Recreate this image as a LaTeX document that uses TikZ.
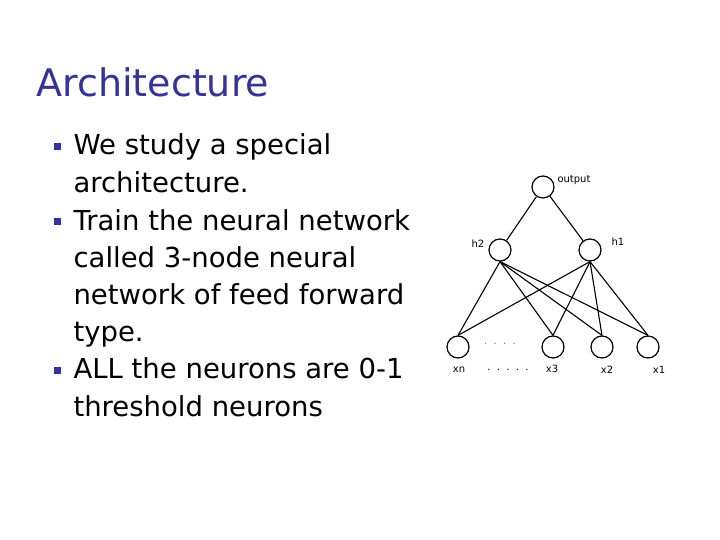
\documentclass[tikz,border=0pt]{standalone}
\usepackage{fontspec}
\setmainfont{DejaVu Sans}
\definecolor{titleblue}{HTML}{333399}
\begin{document}
\begin{tikzpicture}[x=1pt,y=-1pt,
  neuron/.style={circle,draw,line width=1.2pt,minimum size=22pt,inner sep=0pt},
  edge/.style={line width=1.1pt},
  lbl/.style={font=\fontsize{10}{11}\selectfont},
  body/.style={anchor=base west,font=\fontsize{27.5}{30}\selectfont},
  bul/.style={fill=titleblue,minimum size=7pt,inner sep=0pt}]
\useasboundingbox (0,0) rectangle (720,540);
\node[anchor=base west,font=\fontsize{38}{42}\selectfont,text=titleblue] (title) at (33,97) {Architecture};
\foreach \y/\t [count=\i] in {155/We study a special,193/architecture.,230/Train the neural network,267/called 3-node neural,304/network of feed forward,341/type.,378/ALL the neurons are 0-1,416/threshold neurons}
  \node[body] (t\i) at (70,\y) {\t};
\node[bul] (b1) at (57,147) {};
\node[bul] (b2) at (57,222) {};
\node[bul] (b3) at (57,370) {};
\node[neuron] (out) at (543,187) {};
\node[neuron] (h2) at (500,250) {};
\node[neuron] (h1) at (590,250) {};
\node[neuron] (xn) at (458,347) {};
\node[neuron] (x3) at (553,347) {};
\node[neuron] (x2) at (602,347) {};
\node[neuron] (x1) at (648,347) {};
\draw[edge] (out) -- (h2) (out) -- (h1);
\foreach \s in {xn,x3,x2,x1}{
  \draw[edge] (h2.south) -- (\s.north);
  \draw[edge] (h1.south) -- (\s.north);}
\node[lbl] (lo) at (574,180) {output};
\node[lbl] (l2) at (478,244) {h2};
\node[lbl] (l1) at (618,242) {h1};
\node[lbl] (lxn) at (459,370) {xn};
\node[lbl] (lx3) at (552,369) {x3};
\node[lbl] (lx2) at (607,370) {x2};
\node[lbl] (lx1) at (659,370) {x1};
\node[lbl] (d1) at (508,370) {.\ \ .\ \ .\ \ .\ \ .};
\node[lbl,text=gray] (d2) at (500,344) {.\ \ .\ \ .\ \ .};
\end{tikzpicture}
\end{document}
